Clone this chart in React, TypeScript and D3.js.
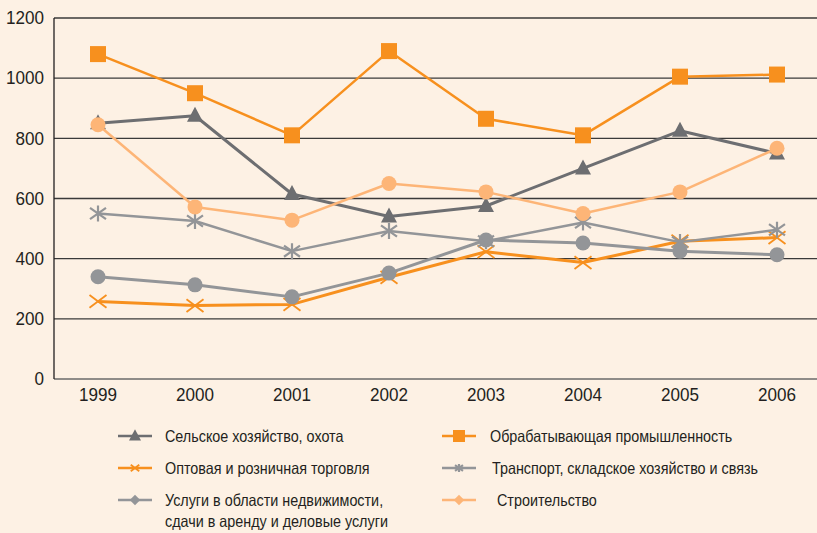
import React, { useEffect, useRef } from 'react';
import * as d3 from 'd3';

const W = 817;
const H = 533;

const years = ['1999', '2000', '2001', '2002', '2003', '2004', '2005', '2006'];
const yTicks = [0, 200, 400, 600, 800, 1000, 1200];

const agriculture = [850, 875, 615, 540, 575, 700, 825, 750];
const manufacturing = [1080, 950, 810, 1090, 865, 810, 1005, 1012];
const trade = [258, 244, 248, 338, 423, 387, 458, 470];
const transport = [550, 525, 425, 492, 458, 520, 455, 496];
const realEstate = [340, 313, 273, 352, 462, 452, 425, 413];
const construction = [845, 572, 528, 650, 622, 550, 622, 767];

const series = [
  { name: 'Оптовая и розничная торговля', values: trade, color: '#f7901e', width: 3, marker: 'x' },
  { name: 'Услуги в области недвижимости,|сдачи в аренду и деловые услуги', values: realEstate, color: '#939598', width: 3, marker: 'circle' },
  { name: 'Транспорт, складское хозяйство и связь', values: transport, color: '#939598', width: 2.5, marker: 'star' },
  { name: 'Сельское хозяйство, охота', values: agriculture, color: '#6d6e71', width: 3, marker: 'triangle' },
  { name: 'Строительство', values: construction, color: '#fdb577', width: 2.5, marker: 'lcircle' },
  { name: 'Обрабатывающая промышленность', values: manufacturing, color: '#f7901e', width: 2.5, marker: 'square' },
];

const legendOrder = [
  { idx: 3, col: 0, row: 0, legendMarker: 'triangle' },
  { idx: 5, col: 1, row: 0, legendMarker: 'square' },
  { idx: 0, col: 0, row: 1, legendMarker: 'x' },
  { idx: 2, col: 1, row: 1, legendMarker: 'star' },
  { idx: 1, col: 0, row: 2, legendMarker: 'diamond' },
  { idx: 4, col: 1, row: 2, legendMarker: 'diamond' },
];

const font = "'Liberation Sans', Arial, sans-serif";

function drawMarker(g: any, type: string, x: number, y: number, color: string, s: number) {
  if (type === 'square') {
    g.append('rect').attr('x', x - 8 * s).attr('y', y - 8 * s).attr('width', 16 * s).attr('height', 16 * s).attr('fill', color);
  } else if (type === 'triangle') {
    g.append('path')
      .attr('d', `M${x},${y - 9 * s}L${x + 8 * s},${y + 6 * s}L${x - 8 * s},${y + 6 * s}Z`)
      .attr('fill', color);
  } else if (type === 'circle' || type === 'lcircle') {
    g.append('circle').attr('cx', x).attr('cy', y).attr('r', 7.5 * s).attr('fill', color);
  } else if (type === 'x') {
    const r = 8.5 * s;
    g.append('path')
      .attr('d', `M${x - r},${y - r * 0.75}L${x + r},${y + r * 0.75}M${x - r},${y + r * 0.75}L${x + r},${y - r * 0.75}`)
      .attr('stroke', color).attr('stroke-width', 1.8).attr('fill', 'none');
  } else if (type === 'star') {
    const r = 8 * s;
    g.append('path')
      .attr('d', `M${x - r},${y - r * 0.7}L${x + r},${y + r * 0.7}M${x - r},${y + r * 0.7}L${x + r},${y - r * 0.7}M${x},${y - r}L${x},${y + r}`)
      .attr('stroke', color).attr('stroke-width', 2.2).attr('fill', 'none');
  } else if (type === 'diamond') {
    const r = 5.5 * s;
    g.append('path').attr('d', `M${x},${y - r}L${x + r},${y}L${x},${y + r}L${x - r},${y}Z`).attr('fill', color);
  }
}

export default function App() {
  const ref = useRef<SVGSVGElement>(null);

  useEffect(() => {
    const svg = d3.select(ref.current);
    svg.selectAll('*').remove();

    const x = d3.scalePoint<string>().domain(years).range([98, 777]);
    const y = d3.scaleLinear().domain([0, 1200]).range([379, 18]);

    svg.append('rect').attr('width', W).attr('height', H).attr('fill', '#fdf1e4');

    // grid
    const grid = svg.append('g');
    yTicks.forEach((t) => {
      grid.append('line')
        .attr('x1', 54).attr('x2', W)
        .attr('y1', y(t)).attr('y2', y(t))
        .attr('stroke', t === 0 ? '#6a6a6a' : '#3a3a3a')
        .attr('stroke-width', 1.3);
      grid.append('text')
        .attr('x', 44).attr('y', y(t)).attr('dy', '0.35em')
        .attr('text-anchor', 'end')
        .attr('font-family', font).attr('font-size', 18).attr('fill', '#231f20')
        .attr('transform', `translate(44,0) scale(0.95,1) translate(-44,0)`)
        .text(t);
    });
    grid.append('line').attr('x1', 54).attr('x2', 54).attr('y1', y(1200)).attr('y2', y(0))
      .attr('stroke', '#231f20').attr('stroke-width', 1.3);

    years.forEach((yr) => {
      const cx = x(yr)!;
      grid.append('text')
        .attr('x', cx).attr('y', 401)
        .attr('text-anchor', 'middle')
        .attr('font-family', font).attr('font-size', 18).attr('fill', '#231f20')
        .attr('transform', `translate(${cx},0) scale(0.95,1) translate(${-cx},0)`)
        .text(yr);
    });

    const line = d3.line<number>().x((_, i) => x(years[i])!).y((d) => y(d));

    series.forEach((s) => {
      const g = svg.append('g');
      g.append('path').attr('d', line(s.values)!).attr('fill', 'none')
        .attr('stroke', s.color).attr('stroke-width', s.width).attr('stroke-linejoin', 'round');
      s.values.forEach((v, i) => drawMarker(g, s.marker, x(years[i])!, y(v), s.color, 1));
    });

    // legend
    const lg = svg.append('g');
    const colX = [118, 442];
    const rowY = [436, 468, 500];
    legendOrder.forEach((l) => {
      const s = series[l.idx];
      const lx = colX[l.col];
      const ly = rowY[l.row];
      lg.append('line').attr('x1', lx).attr('x2', lx + 34).attr('y1', ly).attr('y2', ly)
        .attr('stroke', s.color).attr('stroke-width', 2.5);
      const sc = l.legendMarker === 'triangle' || l.legendMarker === 'square' ? 0.75
        : l.legendMarker === 'diamond' ? 0.95 : 0.5;
      drawMarker(lg, l.legendMarker, lx + 17, ly, s.color, sc);
      const lines = s.name.split('|');
      const tx = l.col === 0 ? 165 : (l.row === 0 ? 490 : l.row === 1 ? 492 : 497);
      lines.forEach((t, k) => {
        lg.append('text')
          .attr('transform', `translate(${tx},${ly + k * 21}) scale(0.87,1)`)
          .attr('dy', '0.35em')
          .attr('font-family', font).attr('font-size', 16.5).attr('fill', '#231f20')
          .text(t);
      });
    });
  }, []);

  return (
    <svg ref={ref} width={W} height={H} style={{ position: 'absolute', left: 0, top: 0, display: 'block' }} />
  );
}
